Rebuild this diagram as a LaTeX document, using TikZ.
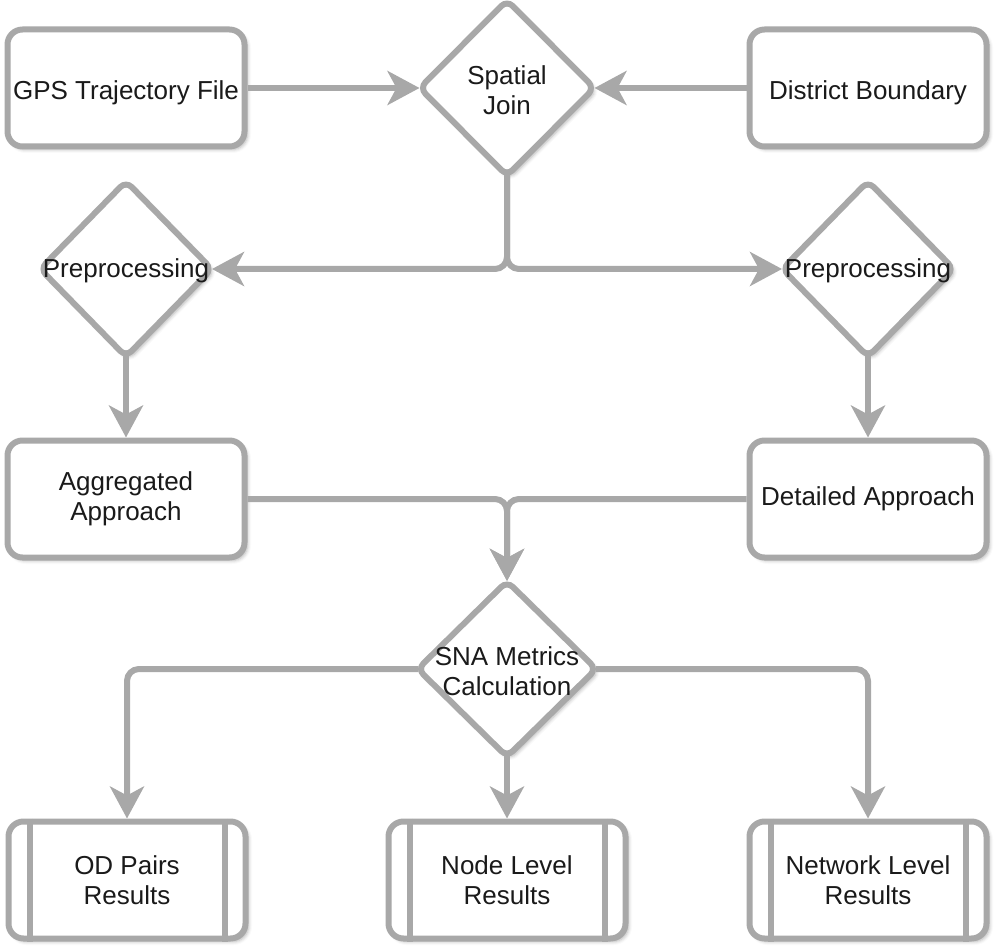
\documentclass[tikz,border=0pt]{standalone}
\usepackage{fontspec}
\setmainfont{Liberation Sans}
\usetikzlibrary{shapes.geometric,arrows.meta,shadows.blur}
\definecolor{strokec}{HTML}{A8A8A8}
\definecolor{textc}{HTML}{1A1A1A}
\tikzset{
  base/.style={draw=strokec, line width=6pt, fill=white, text=textc,
    font=\fontsize{26}{30}\selectfont, align=center, inner sep=0pt,
    blur shadow={shadow xshift=3pt, shadow yshift=-3pt, shadow blur radius=3.5pt, shadow opacity=30}},
  box/.style={base, rectangle, rounded corners=15pt, minimum width=237pt, minimum height=117pt},
  dec/.style={base, diamond, rounded corners=8pt, minimum width=177pt, minimum height=178pt},
  every label/.style={font=\fontsize{26}{30}\selectfont, align=center, text=textc, inner sep=0pt, yshift=-2pt},
  conn/.style={draw=strokec, line width=6pt, rounded corners=12pt,
    -{Stealth[length=32pt,width=34pt,inset=9pt]}},
  innerline/.style={draw=strokec, line width=6pt},
}
\begin{document}
\begin{tikzpicture}[x=1pt,y=-1pt]
\useasboundingbox (0,0) rectangle (998,949);

\node[box, label={[yshift=-3pt]center:GPS Trajectory File}] (gps) at (126,88) {};
\node[dec, label=center:{Spatial\\Join}] (spatial) at (507,88) {};
\node[box, label={[yshift=-3pt]center:District Boundary}] (district) at (868,88) {};

\node[dec, minimum width=174pt, label=center:{Preprocessing}] (prepL) at (126,269) {};
\node[dec, minimum width=174pt, label=center:{Preprocessing}] (prepR) at (868,269) {};

\node[box] (agg) at (126,499) {Aggregated\\Approach};
\node[box] (det) at (868,499) {Detailed Approach};

\node[dec, minimum width=181pt, label=center:{SNA Metrics\\Calculation}] (sna) at (507,669) {};

\node[box] (od) at (127,880) {OD Pairs\\Results};
\node[box] (noderes) at (507,880) {Node Level\\Results};
\node[box] (netres) at (868,880) {Network Level\\Results};

\foreach \n in {od,noderes,netres}{
  \draw[innerline] ([xshift=24pt]\n.north west) -- ([xshift=24pt]\n.south west);
  \draw[innerline] ([xshift=-24pt]\n.north east) -- ([xshift=-24pt]\n.south east);
}

\draw[conn] (gps.east) -- ([xshift=4pt]spatial.west);
\draw[conn] (district.west) -- ([xshift=-4pt]spatial.east);
\draw[conn] ([yshift=6pt]spatial.south) |- ([xshift=-4pt]prepL.east);
\draw[conn] ([yshift=6pt]spatial.south) |- ([xshift=4pt]prepR.west);
\draw[conn] ([yshift=6pt]prepL.south) -- (agg.north);
\draw[conn] ([yshift=6pt]prepR.south) -- (det.north);
\draw[conn] (agg.east) -| ([yshift=-4pt]sna.north);
\draw[conn] (det.west) -| ([yshift=-4pt]sna.north);
\draw[conn] ([xshift=5pt]sna.west) -| (od.north);
\draw[conn] ([yshift=6pt]sna.south) -- (noderes.north);
\draw[conn] ([xshift=-5pt]sna.east) -| (netres.north);
\end{tikzpicture}
\end{document}
